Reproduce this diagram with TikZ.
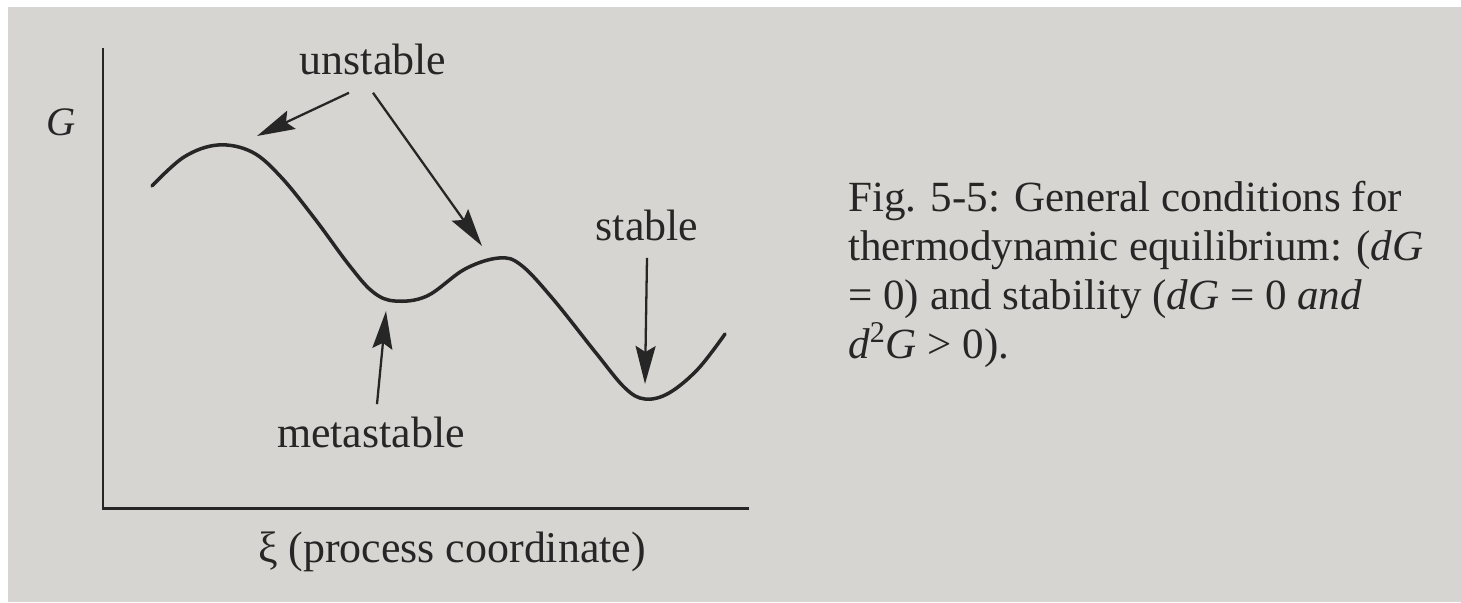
\documentclass[tikz,border=0pt]{standalone}
\usepackage{fontspec}
\setmainfont{Liberation Serif}
\usetikzlibrary{arrows.meta, positioning, calc}
\definecolor{paper}{RGB}{214,213,210}
\definecolor{paperdark}{RGB}{200,199,196}
\definecolor{ink}{RGB}{38,38,38}

\begin{document}
\begin{tikzpicture}[
    x=0.02cm, y=-0.02cm,
    every node/.style={text=ink, inner sep=0pt},
    lbl/.style={font=\fontsize{25}{30}\selectfont, anchor=base},
    axis/.style={draw=ink, line width=1.7pt},
    curve/.style={draw=ink, line width=2pt, line cap=round},
    pointer/.style={draw=ink, line width=1.3pt, -{Stealth[length=0.76cm, width=0.4cm, inset=0.12cm]}},
    caption/.style={font=\fontsize{24.5}{27.8}\selectfont, align=left, anchor=north west}
]
    % --- page ---
    \fill[white] (0,0) rectangle (1461,602);
    \fill[paper] (8,7) rectangle (1461,602);
    \useasboundingbox (0,0) rectangle (1461,602);

    % --- axes ---
    \coordinate (ytop) at (103,48);
    \coordinate (orig) at (103,508);
    \coordinate (xend) at (749,508);
    \draw[axis] (ytop) -- (orig) -- (xend);

    % --- energy curve ---
    \draw[curve] plot[smooth, tension=0.6] coordinates {
        (152,186) (184,157) (218,145) (252,152) (281,177) (315,219)
        (349,265) (373,292) (395,301) (427,296) (465,269) (499,258)
        (521,265) (553,299) (596,353) (625,388) (645,399) (669,393)
        (698,369) (725,334)};

    % --- labels ---
    \node[lbl, font=\fontsize{23}{27}\selectfont\itshape] (G) at (61,135) {G};
    \node[lbl] (unst) at (373,74) {unstable};
    \node[lbl] (stab) at (647,240) {stable};
    \node[lbl] (meta) at (371,447) {metastable};
    \node[lbl] (xi) at (452,562) {ξ (process coordinate)};

    % --- arrows ---
    \coordinate (tipmax) at (257,136);
    \coordinate (tiphump) at (482,246);
    \coordinate (tipmeta) at (386,311);
    \coordinate (tipstab) at (645,384);
    \draw[pointer] ([xshift=-0.48cm,yshift=-0.36cm]unst.south) -- (tipmax);
    \draw[pointer] ([yshift=-0.36cm]unst.south) -- (tiphump);
    \draw[pointer] ([yshift=-0.34cm]stab.south) -- (tipstab);
    \draw[pointer] ([xshift=0.12cm,yshift=0.24cm]meta.north) -- (tipmeta);

    % --- caption ---
    \node[caption] (cap) at (848,181) {Fig. 5-5: General conditions for\\
        thermodynamic equilibrium: (\textit{dG}\\
        = 0) and stability (\textit{dG} = 0 \textit{and}\\
        \textit{d}\textsuperscript{2}\textit{G} > 0).};
\end{tikzpicture}
\end{document}
